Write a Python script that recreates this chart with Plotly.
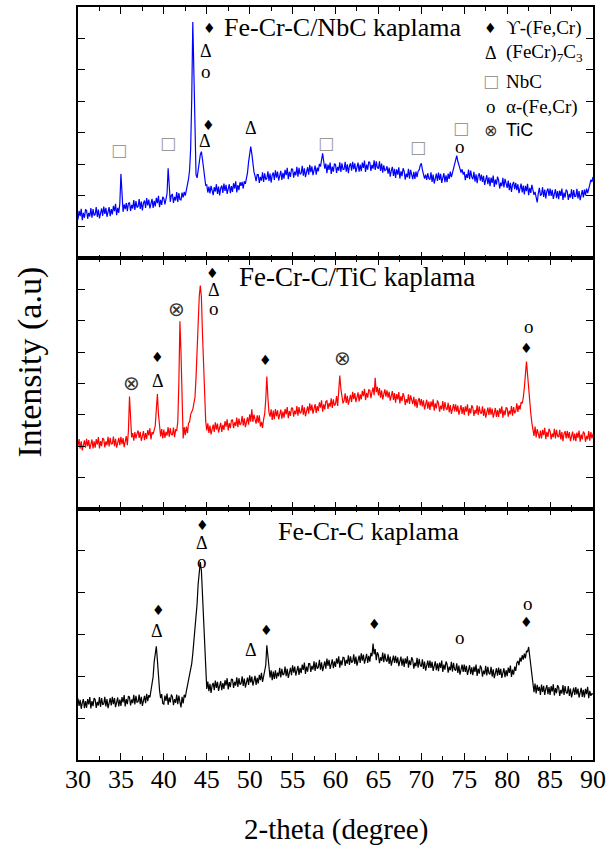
import plotly.graph_objects as go

# ---------------- data ----------------
# XRD scans: intensity (a.u.) per whole degree of 2-theta, 8 readings per degree (0.125 deg scan step)
scan_step = 0.125

nbc_counts = {
    30: [117,143,127,149,115,137,122,146],
    31: [144,119,137,126,151,122,148,129],
    32: [132,154,125,147,120,142,150,128],
    33: [156,134,152,125,143,154,127,148],
    34: [132,158,142,164,130,152,137,165],
    35: [254,170,140,162,148,166,142,165],
    36: [168,143,161,150,175,146,172,153],
    37: [156,178,149,171,144,166,174,152],
    38: [181,159,177,150,168,179,152,173],
    39: [156,182,166,188,154,176,161,185],
    40: [180,162,178,195,271,210,170,190],
    41: [192,167,185,174,199,170,196,177],
    42: [176,198,183,200,189,205,218,238],
    43: [265,330,480,711,560,330,252,242],
    44: [275,288,312,321,298,265,238,220],
    45: [221,198,216,195,218,205,190,214],
    46: [201,223,194,216,189,211,219,197],
    47: [225,203,221,194,212,223,196,217],
    48: [200,226,210,232,198,220,205,229],
    49: [218,230,210,232,224,240,258,290],
    50: [318,336,315,282,260,248,232,252],
    51: [252,227,245,234,259,230,256,237],
    52: [240,262,233,255,228,250,258,236],
    53: [265,243,261,234,252,263,236,257],
    54: [240,266,250,272,238,260,245,269],
    55: [268,243,261,250,275,246,272,253],
    56: [256,278,249,271,244,266,274,252],
    57: [281,259,277,250,268,279,252,273],
    58: [262,284,276,298,316,292,270,285],
    59: [256,282,266,288,254,276,261,285],
    60: [282,257,275,264,289,260,286,267],
    61: [268,290,261,283,256,278,286,264],
    62: [290,268,286,259,277,288,261,282],
    63: [262,288,272,294,260,282,267,291],
    64: [288,263,281,270,295,266,292,273],
    65: [270,292,263,285,258,280,264,266],
    66: [277,255,273,246,264,275,248,269],
    67: [242,268,252,274,240,262,247,271],
    68: [262,237,255,244,269,240,266,247],
    69: [238,260,239,261,244,262,266,280],
    70: [286,266,250,240,252,236,256,240],
    71: [237,259,230,252,225,247,255,233],
    72: [258,236,254,227,245,256,229,250],
    73: [229,255,239,261,244,256,268,285],
    74: [300,309,292,276,270,258,268,252],
    75: [260,235,253,242,267,238,264,245],
    76: [238,260,231,253,226,248,256,234],
    77: [252,230,248,221,239,250,223,244],
    78: [217,243,227,249,215,237,222,246],
    79: [235,210,228,217,242,213,239,220],
    80: [212,234,205,227,200,222,230,208],
    81: [227,205,223,196,214,225,198,219],
    82: [192,218,202,224,190,212,197,221],
    83: [206,191,200,185,168,195,212,190],
    84: [192,214,185,207,180,202,210,188],
    85: [210,188,206,179,197,208,181,202],
    86: [178,204,188,210,176,198,183,207],
    87: [201,176,194,183,208,179,205,186],
    88: [187,209,180,202,175,197,205,183],
    89: [207,189,210,196,214,222,236,230],
    90: [245],
}

tic_counts = {
    30: [188,210,181,203,176,198,206,184],
    31: [211,189,207,180,198,209,182,203],
    32: [184,210,194,216,182,204,189,213],
    33: [210,185,203,192,217,188,214,195],
    34: [196,218,189,211,184,206,214,192],
    35: [217,195,213,186,208,219,192,235],
    36: [339,262,215,228,205,231,212,226],
    37: [236,214,232,205,223,234,207,228],
    38: [211,237,221,243,209,231,225,240],
    39: [250,300,346,285,238,218,240,212],
    40: [239,214,232,221,246,217,243,224],
    41: [223,245,216,238,236,262,380,566],
    42: [470,280,212,246,222,248,228,258],
    43: [262,285,294,300,318,335,395,480],
    44: [570,640,674,640,530,420,330,265],
    45: [236,258,229,251,224,246,254,232],
    46: [261,239,257,230,248,259,232,253],
    47: [238,264,248,270,236,258,243,267],
    48: [268,243,261,250,275,246,272,253],
    49: [258,280,251,273,246,268,276,254],
    50: [285,263,300,262,284,270,257,282],
    51: [260,282,248,262,244,270,286,330],
    52: [399,335,290,278,300,268,296,270],
    53: [301,279,297,270,288,299,272,293],
    54: [275,301,285,307,273,295,280,304],
    55: [303,278,296,285,310,281,307,288],
    56: [291,313,284,306,279,301,309,287],
    57: [318,296,314,287,305,316,289,310],
    58: [295,321,305,327,293,315,300,324],
    59: [326,301,319,308,333,304,330,311],
    60: [316,340,310,348,402,362,328,318],
    61: [326,348,319,341,314,336,344,322],
    62: [353,331,349,322,340,351,324,345],
    63: [330,356,340,362,328,350,335,359],
    64: [358,334,352,366,343,395,352,368],
    65: [342,364,335,357,330,352,360,338],
    66: [357,335,353,326,344,355,328,349],
    67: [320,346,330,352,318,340,325,349],
    68: [338,313,331,320,345,316,342,323],
    69: [316,338,309,331,304,326,334,312],
    70: [331,309,327,300,318,329,302,323],
    71: [298,324,308,330,296,318,303,327],
    72: [318,293,311,300,325,296,322,303],
    73: [298,320,291,313,286,308,316,294],
    74: [315,293,311,284,302,313,286,307],
    75: [283,309,293,315,281,303,288,312],
    76: [305,280,298,287,312,283,309,290],
    77: [287,309,280,302,275,297,305,283],
    78: [306,284,302,275,293,304,277,298],
    79: [277,303,287,309,275,297,282,306],
    80: [303,278,296,285,310,281,307,288],
    81: [295,318,292,312,300,322,318,335],
    82: [365,410,444,405,360,318,288,260],
    83: [245,220,248,215,240,224,212,236],
    84: [212,238,222,244,210,232,217,241],
    85: [234,209,227,216,241,212,238,219],
    86: [216,238,209,231,204,226,234,212],
    87: [235,213,231,204,222,233,206,227],
    88: [204,230,214,236,202,224,209,233],
    89: [227,202,220,209,234,205,231,212],
    90: [226],
}

fecrc_counts = {
    30: [185,163,181,154,172,183,156,177],
    31: [157,183,167,189,155,177,162,186],
    32: [182,157,175,164,189,160,186,167],
    33: [168,190,161,183,156,178,186,164],
    34: [190,168,186,159,177,188,161,182],
    35: [163,189,173,195,161,183,168,192],
    36: [189,164,182,171,196,167,193,174],
    37: [175,197,168,190,163,185,193,171],
    38: [199,177,195,188,205,222,250,295],
    39: [330,342,300,245,210,186,198,170],
    40: [168,194,178,200,166,188,173,197],
    41: [190,165,183,172,197,168,194,175],
    42: [158,190,170,196,188,207,222,245],
    43: [258,270,290,320,355,385,420,470],
    44: [530,580,595,570,495,400,320,262],
    45: [214,236,207,229,202,224,232,210],
    46: [239,217,235,208,226,237,210,231],
    47: [214,240,224,246,212,234,219,243],
    48: [242,217,235,224,249,220,246,227],
    49: [230,252,223,245,218,240,248,226],
    50: [255,233,251,224,242,253,226,247],
    51: [230,256,240,262,235,252,262,285],
    52: [345,305,262,248,270,240,266,244],
    53: [270,245,263,252,277,248,274,255],
    54: [259,281,252,274,247,269,277,255],
    55: [285,263,281,254,272,283,256,277],
    56: [261,287,271,293,259,281,266,290],
    57: [290,265,283,272,297,268,294,275],
    58: [279,301,272,294,267,289,297,275],
    59: [305,283,301,274,292,303,276,297],
    60: [280,306,290,312,278,300,285,309],
    61: [308,283,301,290,315,286,312,293],
    62: [296,318,289,311,284,306,314,292],
    63: [321,299,317,290,308,319,292,313],
    64: [296,322,312,350,318,334,300,324],
    65: [316,291,309,298,323,294,320,301],
    66: [296,318,289,311,284,306,314,292],
    67: [313,291,309,282,300,311,284,305],
    68: [280,306,290,312,278,300,285,309],
    69: [300,275,293,282,307,278,304,285],
    70: [281,303,274,296,269,291,299,277],
    71: [299,277,295,268,286,297,270,291],
    72: [267,293,277,299,265,287,272,296],
    73: [288,263,281,270,295,266,292,273],
    74: [269,291,262,284,257,279,287,265],
    75: [287,265,283,256,274,285,258,279],
    76: [255,281,265,287,253,275,260,284],
    77: [276,251,269,258,283,254,280,261],
    78: [258,280,251,273,246,268,276,254],
    79: [278,256,274,247,265,276,249,270],
    80: [252,278,262,284,250,272,257,281],
    81: [268,292,298,285,308,296,315,302],
    82: [320,306,328,325,340,310,282,250],
    83: [228,204,230,200,226,208,220,196],
    84: [227,205,223,196,214,225,198,219],
    85: [196,222,206,228,194,216,201,225],
    86: [218,193,211,200,225,196,222,203],
    87: [200,222,193,215,188,210,218,196],
    88: [219,197,215,188,206,217,190,211],
    89: [188,214,198,220,186,208,193,200],
    90: [198],
}

x_ticks = [30, 35, 40, 45, 50, 55, 60, 65, 70, 75, 80, 85, 90]
panel_titles = ["Fe-Cr-C/NbC kaplama", "Fe-Cr-C/TiC kaplama", "Fe-Cr-C kaplama"]

# phase marks: (2-theta, intensity, symbol)
nbc_marks = [(45.33, 693, "♦"), (44.9, 623, "Δ"), (44.9, 561, "o"), (45.2, 401, "♦"),
             (44.8, 353, "Δ"), (50.1, 391, "Δ"), (34.8, 326, "□"), (40.5, 346, "□"),
             (58.85, 348, "□"), (69.6, 334, "□"), (74.6, 391, "□"), (74.5, 336, "o")]
tic_marks = [(45.7, 712, "♦"), (45.8, 659, "Δ"), (45.9, 606, "o"), (41.5, 602, "⊗"),
             (36.2, 379, "⊗"), (39.3, 459, "♦"), (39.3, 386, "Δ"), (51.85, 449, "♦"),
             (60.8, 456, "⊗"), (82.55, 549, "o"), (82.2, 484, "♦")]
fecrc_marks = [(44.5, 708, "♦"), (44.4, 652, "Δ"), (44.4, 597, "o"), (39.4, 450, "♦"),
               (39.2, 387, "Δ"), (52.0, 390, "♦"), (50.1, 332, "Δ"), (64.5, 410, "♦"),
               (74.45, 368, "o"), (82.4, 470, "o"), (82.2, 415, "♦")]

legend_symbols = ["♦", "Δ", "□", "o", "⊗"]
legend_labels = ["ϒ-(Fe,Cr)", "(FeCr)<sub>7</sub>C<sub>3</sub>", "NbC", "α-(Fe,Cr)", "TiC"]
legend_rows = [693, 618, 533, 456, 386]

# ---------------- figure ----------------
SERIF = "Liberation Serif"
fig = go.Figure()

def unpack(counts):
    xs, ys = [], []
    for deg, vals in counts.items():
        for j, v in enumerate(vals):
            xs.append(deg + j * scan_step)
            ys.append(v)
    return xs, ys

panels = [
    (nbc_counts, "#0000FF", "x3", "y3"),
    (tic_counts, "#FF0000", "x2", "y2"),
    (fecrc_counts, "#000000", "x", "y"),
]
for counts, col, xa, ya in panels:
    xs, ys = unpack(counts)
    fig.add_trace(go.Scatter(x=xs, y=ys, mode="lines", line=dict(color=col, width=1.2),
                             xaxis=xa, yaxis=ya, showlegend=False, hoverinfo="skip"))

sym_style = {
    "♦": dict(size=14, color="black", family="DejaVu Sans"),
    "Δ": dict(size=18, color="black", family=SERIF),
    "o": dict(size=19, color="black", family=SERIF),
    "□": dict(size=17, color="#999999", family="DejaVu Sans"),
    "⊗": dict(size=20, color="#333333", family="DejaVu Sans"),
}

annotations = []
for marks, xa, ya in [(nbc_marks, "x3", "y3"), (tic_marks, "x2", "y2"), (fecrc_marks, "x", "y")]:
    for tx, ty, s in marks:
        annotations.append(dict(x=tx, y=ty, xref=xa, yref=ya, text=s, showarrow=False,
                                xanchor="center", yanchor="middle", font=sym_style[s]))

title_pos = [(46.8, 693, "x3", "y3", 26), (48.5, 699, "x2", "y2", 27), (53.1, 688, "x", "y", 26)]
for (tx, ty, xa, ya, fs), t in zip(title_pos, panel_titles):
    annotations.append(dict(x=tx, y=ty, xref=xa, yref=ya, text=t, showarrow=False,
                            xanchor="left", yanchor="middle",
                            font=dict(size=fs, color="black", family=SERIF)))

for s, lab, ry in zip(legend_symbols, legend_labels, legend_rows):
    st = dict(sym_style[s])
    if s == "⊗":
        st["size"] = 16
    annotations.append(dict(x=78.1, y=ry, xref="x3", yref="y3", text=s, showarrow=False,
                            xanchor="center", yanchor="middle", font=st))
    fam = "Liberation Sans" if lab == "TiC" else SERIF
    annotations.append(dict(x=79.6, y=ry, xref="x3", yref="y3", text=lab, showarrow=False,
                            xanchor="left", yanchor="middle",
                            font=dict(size=19 if fam == SERIF else 18, color="black", family=fam)))

annotations.append(dict(x=0.5, y=-0.092, xref="paper", yref="paper", text="2-theta (degree)",
                        showarrow=False, xanchor="center", yanchor="middle",
                        font=dict(size=29, color="black", family=SERIF)))
annotations.append(dict(x=-0.093, y=0.528, xref="paper", yref="paper", text="Intensity (a.u)",
                        showarrow=False, xanchor="center", yanchor="middle", textangle=-90,
                        font=dict(size=34, color="black", family=SERIF)))

def xaxis(anchor, labels):
    return dict(range=[30, 90], anchor=anchor, tickmode="array", tickvals=x_ticks,
                ticktext=[str(v) for v in x_ticks], showticklabels=labels,
                ticks="inside", ticklen=7, tickwidth=1.2, tickcolor="black",
                ticklabelstandoff=-5,
                minor=dict(ticks="inside", dtick=2.5, tick0=30, ticklen=4, tickwidth=1.2, tickcolor="black"),
                showline=True, linecolor="black", linewidth=1.6, mirror="ticks",
                showgrid=False, zeroline=False,
                tickfont=dict(size=26, color="black", family=SERIF))

def yaxis(domain, dt, anchor):
    return dict(domain=domain, range=[0, 756], anchor=anchor, tick0=0, dtick=dt,
                showticklabels=False, ticks="inside", ticklen=7, tickwidth=1.2, tickcolor="black",
                showline=True, linecolor="black", linewidth=1.6, mirror="ticks",
                showgrid=False, zeroline=False)

fig.update_layout(
    width=611, height=854,
    margin=dict(l=78, r=16, t=5, b=94),
    paper_bgcolor="white", plot_bgcolor="white",
    xaxis=xaxis("y", True),
    xaxis2=xaxis("y2", False),
    xaxis3=xaxis("y3", False),
    yaxis=yaxis([0, 0.3338], 126, "x"),
    yaxis2=yaxis([0.3338, 0.6662], 94.5, "x2"),
    yaxis3=yaxis([0.6662, 1], 94.5, "x3"),
    annotations=annotations,
)

fig.write_html("out.html", config={"displayModeBar": False},
               post_script="document.body.style.margin='0px';")
